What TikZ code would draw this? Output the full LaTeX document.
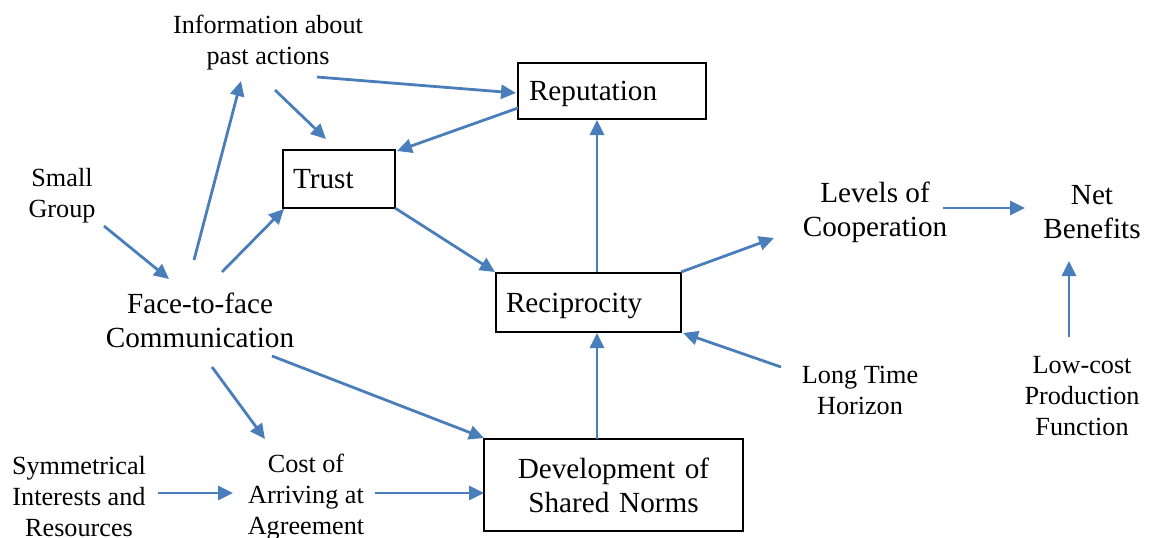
\documentclass[tikz,border=0pt]{standalone}
\usepackage{fontspec}
\setmainfont{Liberation Serif}
\usetikzlibrary{arrows.meta}
\definecolor{linkblue}{HTML}{4A7EBB}
\tikzset{
  bigtext/.style={font=\fontsize{14.6pt}{17pt}\selectfont, align=center, inner sep=0pt, yshift=-1.5pt},
  smalltext/.style={font=\fontsize{13.1pt}{15.5pt}\selectfont, align=center, inner sep=0pt, yshift=-1.5pt},
  boxnode/.style={draw=black, line width=0.75pt, font=\fontsize{14.6pt}{17pt}\selectfont, inner ysep=0pt},
  link/.style={draw=linkblue, line width=1.4pt, -{Triangle[length=7.5pt,width=7pt]}}
}
\begin{document}
\begin{tikzpicture}[x=0.5pt,y=-0.5pt]
\useasboundingbox (0,0) rectangle (1155,537);

% boxed concepts
\node[boxnode, minimum width=94pt, minimum height=28pt, text width=83pt, inner xsep=5.5pt, align=left, text depth=0pt] (rep) at (612,91) {Reputation};
\node[boxnode, minimum width=56pt, minimum height=29pt, text width=46pt, inner xsep=5pt, align=left, text depth=0pt] (trust) at (339,179) {Trust};
\node[boxnode, minimum width=92.5pt, minimum height=29.5pt, text width=82.5pt, inner xsep=5pt, align=left, text depth=0pt] (recip) at (588.5,302.5) {Reciprocity};
\node[boxnode, minimum width=129.5pt, minimum height=46pt, text width=119.5pt, inner xsep=5pt, align=center] (norms) at (613.5,485) {Development of\\Shared Norms};

% free-standing concepts
\node[smalltext] (info) at (268,40) {Information about\\past actions};
\node[smalltext] (small) at (62,192.5) {Small\\Group};
\node[bigtext] (face) at (200,317.5) {Face-to-face\\Communication};
\node[bigtext] (levels) at (875,209) {Levels of\\Cooperation};
\node[bigtext] (net) at (1092,209) {Net\\Benefits};
\node[smalltext] (horizon) at (860,387.5) {Long Time\\Horizon};
\node[smalltext] (lowcost) at (1082,393) {Low-cost\\Production\\Function};
\node[smalltext] (sym) at (79,494) {Symmetrical\\Interests and\\Resources};
\node[smalltext] (cost) at (306,494) {Cost of\\Arriving at\\Agreement};

% connector end points
\coordinate (infoA) at (317,77);
\coordinate (repIn) at (516,93);
\coordinate (infoB) at (275,90);
\coordinate (trustInA) at (326,139);
\coordinate (repOut) at (518,108);
\coordinate (trustInB) at (397,151);
\coordinate (faceA) at (194,260);
\coordinate (infoIn) at (241,81);
\coordinate (faceB) at (222,272);
\coordinate (trustInC) at (284,209);
\coordinate (smallOut) at (104,226);
\coordinate (faceIn) at (169,279);
\coordinate (trustOut) at (395,208);
\coordinate (recipInA) at (495,272);
\coordinate (recipUp) at (597,272);
\coordinate (repBottom) at (597,120);
\coordinate (recipNE) at (681,272);
\coordinate (levelsIn) at (774,238);
\coordinate (levelsOut) at (943,208);
\coordinate (netIn) at (1025,208);
\coordinate (lowOut) at (1069,337);
\coordinate (netBottom) at (1069,261);
\coordinate (horizonOut) at (781,367);
\coordinate (recipSE) at (683,333);
\coordinate (normsTop) at (597,439);
\coordinate (recipBottom) at (597,333);
\coordinate (faceC) at (272,356);
\coordinate (normsInA) at (484,438);
\coordinate (faceD) at (212,367);
\coordinate (costIn) at (265,439);
\coordinate (symOut) at (158,493);
\coordinate (costInB) at (233,493);
\coordinate (costOut) at (375,493);
\coordinate (normsInB) at (484,493);

% influences
\draw[link] (infoA) -- (repIn);
\draw[link] (infoB) -- (trustInA);
\draw[link] (repOut) -- (trustInB);
\draw[link] (faceA) -- (infoIn);
\draw[link] (faceB) -- (trustInC);
\draw[link] (smallOut) -- (faceIn);
\draw[link] (trustOut) -- (recipInA);
\draw[link] (recipUp) -- (repBottom);
\draw[link] (recipNE) -- (levelsIn);
\draw[link] (levelsOut) -- (netIn);
\draw[link] (lowOut) -- (netBottom);
\draw[link] (horizonOut) -- (recipSE);
\draw[link] (normsTop) -- (recipBottom);
\draw[link] (faceC) -- (normsInA);
\draw[link] (faceD) -- (costIn);
\draw[link] (symOut) -- (costInB);
\draw[link] (costOut) -- (normsInB);
\end{tikzpicture}
\end{document}
